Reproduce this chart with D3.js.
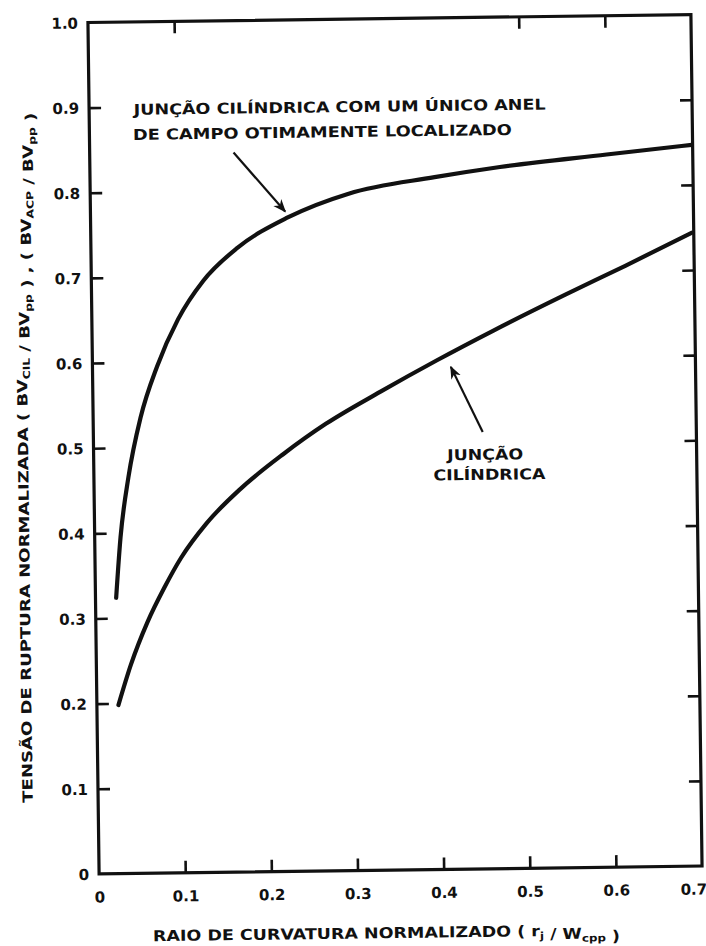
<!DOCTYPE html>
<html>
<head>
<meta charset="utf-8">
<script src="https://cdn.jsdelivr.net/npm/d3@7"></script>
<style>
  html, body { margin: 0; padding: 0; background: #fff; }
  svg { display: block; }
  text { font-family: "DejaVu Sans", sans-serif; font-weight: bold; fill: #111; }
</style>
</head>
<body>
<svg id="chart" width="706" height="946"></svg>
<script>
// Axis ticks and their printed labels
const xTickValues = [0, 0.1, 0.2, 0.3, 0.4, 0.5, 0.6, 0.7];
const xTickLabels = ["0", "0.1", "0.2", "0.3", "0.4", "0.5", "0.6", "0.7"];
const yTickValues = [0, 0.1, 0.2, 0.3, 0.4, 0.5, 0.6, 0.7, 0.8, 0.9, 1.0];
const yTickLabels = ["0", "0.1", "0.2", "0.3", "0.4", "0.5", "0.6", "0.7", "0.8", "0.9", "1.0"];

// Cylindrical junction with one optimally placed field ring
const ringX = [0.024, 0.03, 0.04, 0.055, 0.075, 0.1, 0.13, 0.17, 0.229, 0.3, 0.4, 0.476, 0.6, 0.699];
const ringY = [0.324, 0.395, 0.465, 0.535, 0.595, 0.65, 0.695, 0.733, 0.768, 0.795, 0.813, 0.824, 0.837, 0.847];

// Plain cylindrical junction
const cylX = [0.025, 0.04, 0.06, 0.08, 0.1, 0.13, 0.17, 0.22, 0.27, 0.334, 0.4, 0.466, 0.55, 0.62, 0.698];
const cylY = [0.198, 0.245, 0.295, 0.335, 0.37, 0.41, 0.45, 0.49, 0.525, 0.562, 0.598, 0.632, 0.673, 0.706, 0.744];

const svg = d3.select("#chart");

// Frame of the plot; the whole drawing sits slightly tilted
const frameL = 93.5, frameR = 696.5, frameT = 18.5, frameB = 870;
const tilt = -0.75, cx = 395, cy = 444;

const x = d3.scaleLinear().domain([0, 0.7]).range([frameL, frameR]);
const y = d3.scaleLinear().domain([0, 1]).range([frameB, frameT]);

const g = svg.append("g").attr("transform", `rotate(${tilt},${cx},${cy})`);

const tickLen = 12;
const ink = "#111";

// Bottom axis: inward ticks with labels underneath
const xAxis = d3.axisBottom(x)
  .tickValues(xTickValues)
  .tickFormat((d, i) => xTickLabels[i])
  .tickSizeInner(-tickLen).tickSizeOuter(0).tickPadding(18);
const gx = g.append("g").attr("transform", `translate(0,${frameB})`).call(xAxis);

// Left axis: inward ticks with labels at the side
const yAxis = d3.axisLeft(y)
  .tickValues(yTickValues)
  .tickFormat((d, i) => yTickLabels[i])
  .tickSizeInner(-tickLen).tickSizeOuter(0).tickPadding(10);
const gy = g.append("g").attr("transform", `translate(${frameL},0)`).call(yAxis);

// Right axis: ticks only
const yAxisR = d3.axisRight(y)
  .tickValues(yTickValues.filter(v => v > 0 && v < 1))
  .tickFormat("")
  .tickSizeInner(-tickLen).tickSizeOuter(0);
const gr = g.append("g").attr("transform", `translate(${frameR},0)`).call(yAxisR);

// Top axis: a few ticks only
const xAxisT = d3.axisTop(x)
  .tickValues([0.1, 0.5, 0.6])
  .tickFormat("")
  .tickSizeInner(-tickLen).tickSizeOuter(0);
const gt = g.append("g").attr("transform", `translate(0,${frameT})`).call(xAxisT);

[gx, gy, gr, gt].forEach(a => {
  a.select(".domain").remove();
  a.selectAll(".tick line").attr("stroke", ink).attr("stroke-width", 2.6);
  a.selectAll(".tick text").attr("font-size", 15).attr("fill", ink)
    .style("font-family", "'DejaVu Sans', sans-serif").style("font-weight", "bold");
});
gy.selectAll(".tick text").attr("dy", "0.36em");
gx.selectAll(".tick text").attr("dy", "0.7em");
// the last label is pulled inward, away from the corner
gx.selectAll(".tick text").filter(d => d === 0.7).attr("dx", -9);
// zero ticks are part of the frame
gx.selectAll(".tick line").filter(d => d === 0 || d === 0.7).remove();
gy.selectAll(".tick line").filter(d => d === 0 || d === 1).remove();

// Frame
g.append("rect")
  .attr("x", frameL).attr("y", frameT)
  .attr("width", frameR - frameL).attr("height", frameB - frameT)
  .attr("fill", "none").attr("stroke", ink).attr("stroke-width", 3.2);

// Curves
const line = d3.line().x(d => x(d[0])).y(d => y(d[1])).curve(d3.curveMonotoneX);

g.append("path")
  .datum(ringX.map((v, i) => [v, ringY[i]]))
  .attr("d", line)
  .attr("fill", "none").attr("stroke", ink).attr("stroke-width", 4.2)
  .attr("stroke-linecap", "round");

g.append("path")
  .datum(cylX.map((v, i) => [v, cylY[i]]))
  .attr("d", line)
  .attr("fill", "none").attr("stroke", ink).attr("stroke-width", 4.2)
  .attr("stroke-linecap", "round");

// Arrowheads
const defs = svg.append("defs");
defs.append("marker")
  .attr("id", "head")
  .attr("viewBox", "0 0 10 10")
  .attr("refX", 9).attr("refY", 5)
  .attr("markerWidth", 6).attr("markerHeight", 6)
  .attr("orient", "auto")
  .attr("markerUnits", "strokeWidth")
  .append("path").attr("d", "M0,1 L10,5 L0,9 L3,5 Z").attr("fill", ink);

function arrow(from, to) {
  g.append("line")
    .attr("x1", x(from[0])).attr("y1", y(from[1]))
    .attr("x2", x(to[0])).attr("y2", y(to[1]))
    .attr("stroke", ink).attr("stroke-width", 2.2)
    .attr("marker-end", "url(#head)");
}
arrow([0.167, 0.845], [0.226, 0.775]);
arrow([0.452, 0.513], [0.416, 0.590]);

// Curve captions
g.append("text").attr("x", 138).attr("y", 111.5)
  .attr("font-size", 15).attr("textLength", 412).attr("lengthAdjust", "spacingAndGlyphs")
  .text("JUNÇÃO CILÍNDRICA COM UM ÚNICO ANEL");
g.append("text").attr("x", 137).attr("y", 136.5)
  .attr("font-size", 15).attr("textLength", 379).attr("lengthAdjust", "spacingAndGlyphs")
  .text("DE CAMPO OTIMAMENTE LOCALIZADO");
g.append("text").attr("x", 485).attr("y", 461).attr("text-anchor", "middle")
  .attr("font-size", 15).attr("textLength", 76).attr("lengthAdjust", "spacingAndGlyphs")
  .text("JUNÇÃO");
g.append("text").attr("x", 489).attr("y", 481).attr("text-anchor", "middle")
  .attr("font-size", 15).attr("textLength", 112).attr("lengthAdjust", "spacingAndGlyphs")
  .text("CILÍNDRICA");

// Axis titles with subscripts
function titled(sel, parts) {
  parts.forEach(p => {
    if (p.sub) {
      sel.append("tspan").attr("font-size", "0.68em").attr("dy", "0.3em").text(p.sub);
      sel.append("tspan").attr("dy", "-0.3em").text("");
    } else {
      sel.append("tspan").text(p.t);
    }
  });
}

const xt = g.append("text")
  .attr("x", 380).attr("y", 938).attr("text-anchor", "middle")
  .attr("font-size", 15).attr("textLength", 467).attr("lengthAdjust", "spacingAndGlyphs");
titled(xt, [
  { t: "RAIO DE CURVATURA NORMALIZADO ( r" }, { sub: "j" },
  { t: " / W" }, { sub: "cpp" }, { t: " )" }
]);

const yt = g.append("text")
  .attr("transform", "translate(28,453) rotate(-90)")
  .attr("text-anchor", "middle")
  .attr("font-size", 14).attr("textLength", 690).attr("lengthAdjust", "spacingAndGlyphs");
titled(yt, [
  { t: "TENSÃO DE RUPTURA NORMALIZADA ( BV" }, { sub: "CIL" },
  { t: " / BV" }, { sub: "pp" }, { t: " )  ,  ( BV" }, { sub: "ACP" },
  { t: " / BV" }, { sub: "pp" }, { t: " )" }
]);
</script>
</body>
</html>
